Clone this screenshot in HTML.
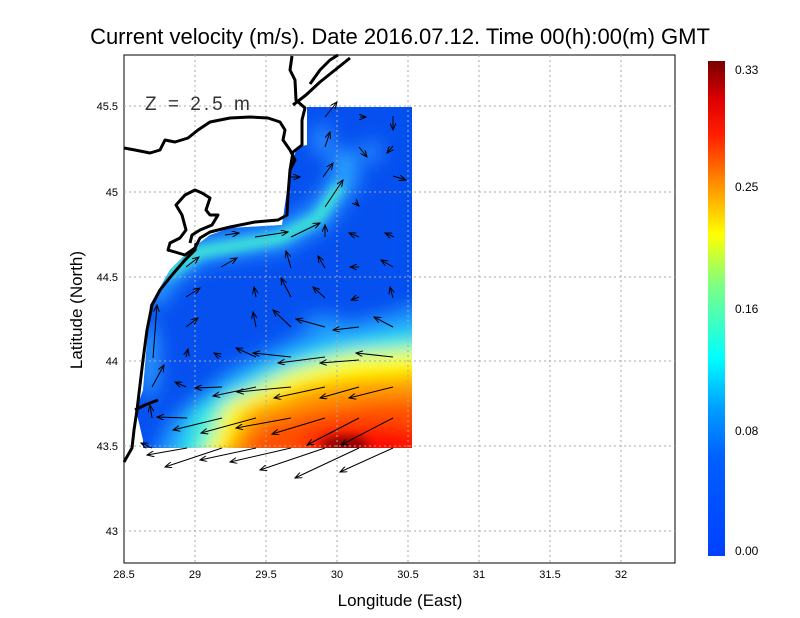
<!DOCTYPE html>
<html><head><meta charset="utf-8"><style>
html,body{margin:0;padding:0;background:#fff;}
svg{display:block;font-family:"Liberation Sans",sans-serif;}
</style></head><body>
<svg width="800" height="618" viewBox="0 0 800 618" xmlns="http://www.w3.org/2000/svg">
<defs>
<filter id="bl" x="-20%" y="-20%" width="140%" height="140%"><feGaussianBlur stdDeviation="9"/></filter>
<filter id="bl2" x="-20%" y="-20%" width="140%" height="140%"><feGaussianBlur stdDeviation="5"/></filter>
<clipPath id="dc"><polygon points="307,107 412,107 412,448 143,448 143,440 136,410 143,390 150,305 170,270 190,250 210,235 230,228 282,225 290,170 297,147 307,145"/></clipPath>
<linearGradient id="cb" x1="0" y1="1" x2="0" y2="0">
<stop offset="0" stop-color="#0040ff"/><stop offset="0.2" stop-color="#0060ff"/><stop offset="0.3" stop-color="#00a0ff"/><stop offset="0.4" stop-color="#00ffff"/><stop offset="0.55" stop-color="#80ff80"/><stop offset="0.65" stop-color="#ffff00"/><stop offset="0.75" stop-color="#ff9000"/><stop offset="0.85" stop-color="#ff2000"/><stop offset="0.92" stop-color="#e00000"/><stop offset="1" stop-color="#780000"/>
</linearGradient>
<marker id="ah" markerWidth="8" markerHeight="6" refX="7" refY="3" orient="auto" markerUnits="userSpaceOnUse"><path d="M0,0 L7,3 L0,6" fill="none" stroke="#000" stroke-width="1"/></marker>
</defs>
<text x="400" y="44" font-size="22" text-anchor="middle">Current velocity (m/s). Date 2016.07.12. Time 00(h):00(m) GMT</text>
<rect x="124" y="55" width="551" height="508" fill="#fff" stroke="#000"/>
<g clip-path="url(#dc)">
<rect x="100" y="80" width="360" height="420" fill="#0650f0"/>
<g filter="url(#bl)">
<polyline points="150,300 165,275 200,250 280,238 320,215 345,180 345,150" fill="none" stroke="#2aa0ff" stroke-width="26"/>
<polygon points="450,300 450,490 140,490 170,420 230,370 300,335 380,316" fill="#20a0ff"/>
<polygon points="450,328 450,490 170,490 195,410 260,372 320,348 390,336" fill="#30f0e0"/>
<polygon points="450,348 450,490 190,490 225,405 290,372 350,355" fill="#ffff00"/>
<polygon points="450,372 450,490 205,490 245,410 310,385 360,378" fill="#ff9a00"/>
<polygon points="450,398 450,490 215,490 260,425 320,408 380,400" fill="#ff5000"/>
<ellipse cx="370" cy="445" rx="70" ry="20" fill="#ff1000"/>
<ellipse cx="322" cy="322" rx="22" ry="6" fill="#20a0ff"/>
<ellipse cx="150" cy="360" rx="8" ry="40" fill="#30a8ff"/>
<ellipse cx="322" cy="140" rx="10" ry="16" fill="#2a90ff"/>
<ellipse cx="372" cy="152" rx="8" ry="12" fill="#2a90ff"/>
<rect x="400" y="105" width="40" height="200" fill="#0650f0"/>
</g>
<g filter="url(#bl2)">
<polyline points="165,275 200,252 280,238 318,218 340,185" fill="none" stroke="#40f0d0" stroke-width="10"/>
<ellipse cx="345" cy="445" rx="24" ry="9" fill="#8a0000"/>
</g>
</g>
<g stroke="#aaa" stroke-dasharray="2,3" stroke-width="1">
<line x1="195" y1="55" x2="195" y2="563"/><line x1="266" y1="55" x2="266" y2="563"/><line x1="337" y1="55" x2="337" y2="563"/><line x1="408" y1="55" x2="408" y2="563"/><line x1="479" y1="55" x2="479" y2="563"/><line x1="550" y1="55" x2="550" y2="563"/><line x1="621" y1="55" x2="621" y2="563"/>
<line x1="124" y1="106" x2="675" y2="106"/><line x1="124" y1="192" x2="675" y2="192"/><line x1="124" y1="277" x2="675" y2="277"/><line x1="124" y1="361" x2="675" y2="361"/><line x1="124" y1="446" x2="675" y2="446"/><line x1="124" y1="531" x2="675" y2="531"/>
</g>
<g fill="none" stroke="#000" stroke-width="3" stroke-linejoin="round">
<polyline points="124,462 132,448 134,430 137,410 140,385 143,360 147,330 152,305 160,290 172,275 185,260 195,250 196,243"/>
<polyline points="124,148 135,150 150,153 160,150 165,140 175,142 188,138 198,130 210,122 230,118 250,117 268,118 280,122 285,130 283,140 290,150 295,160 290,170 288,195 287,215 278,220 255,222 230,227 210,232 200,238 195,248 185,255 175,252 168,250 170,243 180,238 186,230 182,215 176,205 185,195 195,190 202,193 210,198 206,210 210,215 218,215 212,225 200,230 192,235 190,243"/>
<polyline points="290,170 293,152 302,145 302,120 305,108 296,100 295,80 290,70 292,56"/>
<polyline points="293,105 306,95 320,82 335,70 350,58"/>
<polyline points="310,84 320,70 330,60 338,55"/>
<polyline points="135,410 145,405 158,400"/>
</g>
<text x="145" y="110" font-size="19" fill="#333" letter-spacing="3">Z = 2.5 m</text>
<g stroke="#000" stroke-width="1" marker-end="url(#ah)">
<line x1="325" y1="117" x2="337" y2="102"/><line x1="360" y1="117" x2="366" y2="117"/><line x1="393" y1="116" x2="393" y2="130"/>
<line x1="325" y1="147" x2="330" y2="132"/><line x1="359" y1="147" x2="367" y2="157"/><line x1="393" y1="146" x2="387" y2="153"/>
<line x1="323" y1="177" x2="333" y2="163"/><line x1="290" y1="177" x2="300" y2="177"/><line x1="393" y1="176" x2="406" y2="180"/>
<line x1="325" y1="207" x2="343" y2="180"/><line x1="355" y1="202" x2="359" y2="206"/>
<line x1="225" y1="235" x2="239" y2="233"/><line x1="255" y1="237" x2="288" y2="232"/><line x1="291" y1="237" x2="320" y2="223"/><line x1="325" y1="237" x2="325" y2="225"/><line x1="359" y1="237" x2="349" y2="233"/><line x1="394" y1="237" x2="385" y2="233"/>
<line x1="186" y1="267" x2="199" y2="257"/><line x1="221" y1="267" x2="237" y2="258"/><line x1="291" y1="268" x2="286" y2="251"/><line x1="325" y1="268" x2="318" y2="256"/><line x1="359" y1="267" x2="350" y2="267"/><line x1="393" y1="267" x2="381" y2="260"/>
<line x1="186" y1="297" x2="200" y2="288"/><line x1="256" y1="297" x2="254" y2="287"/><line x1="291" y1="297" x2="281" y2="278"/><line x1="325" y1="298" x2="313" y2="287"/><line x1="359" y1="297" x2="351" y2="300"/><line x1="393" y1="298" x2="390" y2="287"/>
<line x1="153" y1="358" x2="157" y2="305"/><line x1="186" y1="327" x2="198" y2="318"/><line x1="256" y1="327" x2="253" y2="312"/><line x1="291" y1="327" x2="273" y2="310"/><line x1="325" y1="327" x2="296" y2="319"/><line x1="359" y1="327" x2="333" y2="330"/><line x1="393" y1="327" x2="374" y2="317"/>
<line x1="186" y1="357" x2="188" y2="349"/><line x1="221" y1="357" x2="214" y2="353"/><line x1="256" y1="357" x2="236" y2="348"/><line x1="291" y1="357" x2="253" y2="353"/><line x1="325" y1="357" x2="278" y2="363"/><line x1="359" y1="360" x2="320" y2="363"/><line x1="393" y1="357" x2="356" y2="353"/>
<line x1="152" y1="387" x2="164" y2="365"/><line x1="186" y1="387" x2="175" y2="382"/><line x1="222" y1="387" x2="195" y2="388"/><line x1="256" y1="387" x2="213" y2="396"/><line x1="291" y1="387" x2="237" y2="392"/><line x1="325" y1="387" x2="274" y2="398"/><line x1="359" y1="387" x2="320" y2="398"/><line x1="393" y1="387" x2="349" y2="398"/>
<line x1="152" y1="418" x2="150" y2="405"/><line x1="187" y1="418" x2="157" y2="417"/><line x1="222" y1="418" x2="173" y2="430"/><line x1="256" y1="418" x2="201" y2="433"/><line x1="291" y1="418" x2="236" y2="428"/><line x1="325" y1="418" x2="272" y2="434"/><line x1="359" y1="418" x2="307" y2="445"/><line x1="393" y1="418" x2="341" y2="445"/>
<line x1="152" y1="448" x2="141" y2="443"/><line x1="187" y1="448" x2="147" y2="455"/><line x1="222" y1="448" x2="165" y2="467"/><line x1="256" y1="448" x2="200" y2="460"/><line x1="291" y1="448" x2="230" y2="462"/><line x1="325" y1="448" x2="260" y2="470"/><line x1="359" y1="448" x2="295" y2="478"/><line x1="393" y1="448" x2="340" y2="472"/>
</g>
<g font-size="11" text-anchor="middle">
<text x="124" y="578">28.5</text><text x="195" y="578">29</text><text x="266" y="578">29.5</text><text x="337" y="578">30</text><text x="408" y="578">30.5</text><text x="479" y="578">31</text><text x="550" y="578">31.5</text><text x="621" y="578">32</text>
</g>
<g font-size="11" text-anchor="end">
<text x="118" y="110">45.5</text><text x="118" y="196">45</text><text x="118" y="281">44.5</text><text x="118" y="365">44</text><text x="118" y="450">43.5</text><text x="118" y="535">43</text>
</g>
<text x="400" y="606" font-size="17" text-anchor="middle">Longitude (East)</text>
<text transform="translate(82,310) rotate(-90)" font-size="17" text-anchor="middle">Latitude (North)</text>
<rect x="708" y="61" width="17" height="495" fill="url(#cb)"/>
<g font-size="12">
<text x="735" y="74">0.33</text><text x="735" y="191">0.25</text><text x="735" y="313">0.16</text><text x="735" y="435">0.08</text><text x="735" y="555">0.00</text>
</g>
</svg>
</body></html>
